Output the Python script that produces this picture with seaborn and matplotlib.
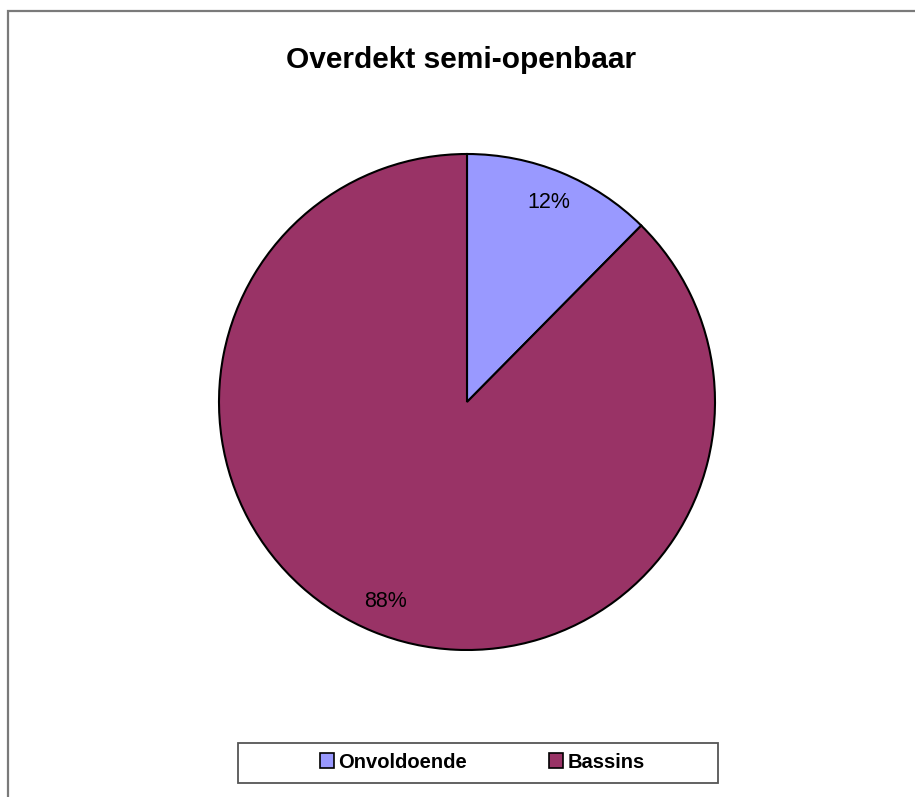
import matplotlib
matplotlib.use("Agg")
import matplotlib.pyplot as plt
from matplotlib.patches import Patch, Rectangle
import seaborn as sns

# data
categories = ["Onvoldoende", "Bassins"]
shares = [12.4, 87.6]
colors = ["#9999FF", "#993366"]
title = "Overdekt semi-openbaar"

sns.set_style("white")
plt.rcParams["font.family"] = ["Liberation Sans", "DejaVu Sans"]
plt.rcParams["text.color"] = "black"

W, H = 915, 797
fig = plt.figure(figsize=(W / 100, H / 100), dpi=100)

# outer chart border (runs off the right and bottom edges)
fig.patches.append(Rectangle((7.5 / W, -0.05), 1.2, 1 - 10.5 / H + 0.05,
                             transform=fig.transFigure, fill=False,
                             edgecolor="#7a7a7a", linewidth=1.6))

# pie axes: centre (467, 402), radius 248 px
cx, cy, r = 467, 402, 248
ax = fig.add_axes([(cx - r) / W, 1 - (cy + r) / H, 2 * r / W, 2 * r / H])
wedges, texts, autotexts = ax.pie(
    shares, colors=colors, startangle=90, counterclock=False,
    autopct="%.0f%%", pctdistance=0.87,
    wedgeprops=dict(edgecolor="black", linewidth=1.5),
    textprops=dict(fontsize=15.5, color="black"),
)
ax.set_aspect("equal")
ax.set_xlim(-1, 1)
ax.set_ylim(-1, 1)
ax.axis("off")

fig.text(461 / W, 1 - 60 / H, title, ha="center", va="center",
         fontsize=21.5, fontweight="bold", color="black")

# legend box
fig.patches.append(Rectangle((238.5 / W, 1 - 782.5 / H), 479 / W, 40 / H,
                             transform=fig.transFigure, fill=False,
                             edgecolor="#555555", linewidth=1.3))
handles = [Patch(facecolor=c, edgecolor="black", linewidth=1.2) for c in colors]
leg = fig.legend(handles, categories, loc="center", ncol=2,
                 bbox_to_anchor=(482 / W, 1 - 762 / H), frameon=False,
                 handlelength=0.7, handleheight=0.7, handletextpad=0.2,
                 columnspacing=4.1, prop=dict(size=14.5, weight="bold"))
for t in leg.get_texts():
    t.set_color("black")

fig.savefig("out.png", dpi=100, facecolor="white")
